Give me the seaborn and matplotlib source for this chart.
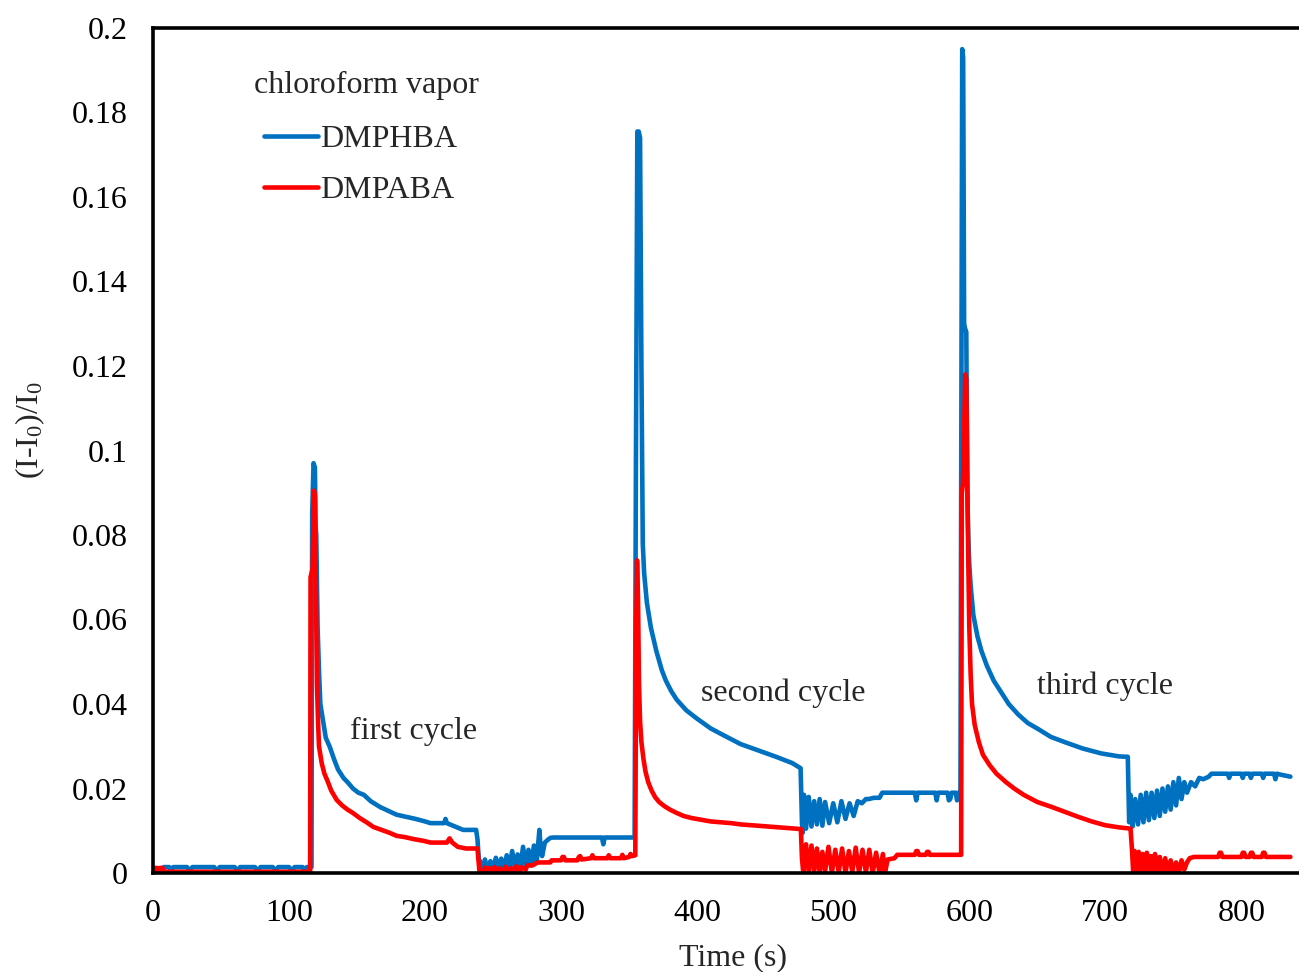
import numpy as np
import pandas as pd
import matplotlib
matplotlib.use("Agg")
import matplotlib.pyplot as plt
from matplotlib.ticker import MultipleLocator, FuncFormatter
import seaborn as sns

# ---------------- data ----------------
series_names = ["DMPHBA", "DMPABA"]
series_colors = ["#0070C0", "#FF0000"]
legend_title = "chloroform vapor"
cycle_labels = ["first cycle", "second cycle", "third cycle"]
cycle_label_t = [145, 402.5, 649.7]
cycle_label_v = [0.0335, 0.0425, 0.0442]

# DMPHBA (blue)
b_base_t = [0, 2, 3, 6, 8, 12, 13, 15, 25, 27, 29, 45, 47, 49, 60, 62, 64, 75, 77, 79, 88, 90, 92, 100, 102, 104, 110, 111, 113, 116]
b_base_v = [0.001, 0.001, 0.0004, 0.0004, 0.0014, 0.0014, 0.0005, 0.0014, 0.0014, 0.0005, 0.0014, 0.0014, 0.0004, 0.0014,
            0.0014, 0.0005, 0.0014, 0.0014, 0.0004, 0.0014, 0.0014, 0.0005, 0.0014, 0.0014, 0.0004, 0.0014, 0.0014, 0.0005, 0.0014, 0.0014]
b_c1_t = [116.5, 117, 118, 119, 119.5, 120, 121, 122, 123, 125, 127, 130, 133, 136, 140, 143, 147, 151, 155, 160, 167, 173, 179,
          186, 193, 200, 204, 210, 214, 215, 216, 222, 228, 234, 237.5, 238.5, 239.5]
b_c1_v = [0.0014, 0.085, 0.097, 0.096, 0.082, 0.08, 0.058, 0.048, 0.040, 0.036, 0.032, 0.0298, 0.027, 0.0245, 0.0225, 0.0215,
          0.020, 0.019, 0.0185, 0.017, 0.0156, 0.0147, 0.0138, 0.0133, 0.0128, 0.0122, 0.0118, 0.0118, 0.0118, 0.0128, 0.0118,
          0.011, 0.0102, 0.0102, 0.0102, 0.008, 0.003]
b_off1_t = [240, 242, 244, 246, 248, 250, 252, 254, 256, 258, 260, 262, 264, 266, 268, 270, 272, 274, 276, 278, 280, 282, 284,
            285, 286, 288, 290, 292, 294, 330, 331, 332, 354]
b_off1_v = [0.003, 0.001, 0.0032, 0.0007, 0.0028, 0.001, 0.0036, 0.0012, 0.0034, 0.0008, 0.0042, 0.0014, 0.0052, 0.001, 0.0044,
            0.0012, 0.0062, 0.0015, 0.0055, 0.0018, 0.0065, 0.0025, 0.0102, 0.0055, 0.004, 0.0072, 0.0078, 0.0083, 0.0084,
            0.0084, 0.0068, 0.0084, 0.0084]
b_c2_t = [355, 356, 357, 358, 359, 360, 361, 363, 366, 370, 374, 377, 381, 385, 392, 400, 410, 420, 432, 445, 458, 470, 476]
b_c2_v = [0.10, 0.1755, 0.1755, 0.174, 0.12, 0.078, 0.071, 0.064, 0.058, 0.0525, 0.048, 0.0455, 0.043, 0.041, 0.0385,
          0.0365, 0.0342, 0.0325, 0.0305, 0.029, 0.0275, 0.026, 0.0248]
b_off2_t = [477, 477.5, 478.5, 480, 482, 484, 486, 488, 490, 492, 494, 497, 500, 503, 506, 509, 512, 515, 518, 521, 524, 526,
            530, 534, 536, 560, 561, 562, 563, 575, 576, 577, 578, 584, 585, 586, 587, 590, 591, 592, 593.5]
b_off2_v = [0.012, 0.0095, 0.0185, 0.0105, 0.018, 0.011, 0.017, 0.0115, 0.0175, 0.0112, 0.0168, 0.0118, 0.0165, 0.012, 0.017,
            0.0128, 0.0165, 0.0135, 0.017, 0.0165, 0.0175, 0.0175, 0.0178, 0.0178, 0.019, 0.019, 0.0172, 0.019, 0.019, 0.019,
            0.0172, 0.019, 0.019, 0.019, 0.0172, 0.0175, 0.019, 0.019, 0.0172, 0.019, 0.019]
b_c3_t = [594, 594.8, 595.5, 596.2, 596.8, 597.8, 598.5, 599.2, 600, 601, 603, 606, 609, 613, 618, 623, 629, 636, 643, 651,
          660, 670, 683, 697, 710, 716.5]
b_c3_v = [0.09, 0.195, 0.193, 0.13, 0.129, 0.128, 0.09, 0.08, 0.073, 0.068, 0.061, 0.056, 0.0525, 0.049, 0.0455, 0.043, 0.040,
          0.0375, 0.0355, 0.034, 0.0322, 0.031, 0.0295, 0.0283, 0.0276, 0.0275]
b_off3_t = [717.5, 718.5, 720, 722, 724, 726, 728, 730, 732, 734, 736, 738, 740, 742, 744, 746, 748, 750, 752, 754, 756, 758,
            760, 763, 766, 769, 772, 776, 778, 790, 791, 792, 800, 801, 802, 806, 807, 808, 815, 816, 817, 824, 825, 826, 830, 836]
b_off3_v = [0.012, 0.0185, 0.011, 0.0175, 0.0115, 0.0185, 0.012, 0.019, 0.0125, 0.019, 0.013, 0.0195, 0.0135, 0.02, 0.0145,
            0.0205, 0.015, 0.0215, 0.016, 0.0225, 0.0175, 0.0215, 0.019, 0.0215, 0.0205, 0.0225, 0.0222, 0.0228, 0.0235, 0.0235,
            0.0225, 0.0235, 0.0235, 0.0225, 0.0235, 0.0235, 0.0225, 0.0235, 0.0235, 0.0225, 0.0235, 0.0235, 0.0222, 0.0235,
            0.0232, 0.0228]

# DMPABA (red)
r_base_t = [0, 1, 3, 4, 5, 7, 8, 40, 115.5]
r_base_v = [0.0003, 0.0012, 0.0012, 0.0003, 0.0012, 0.0012, 0.0003, 0.0003, 0.0003]
r_c1_t = [115.8, 116.5, 117.3, 118.3, 119, 119.8, 120.5, 121.3, 122, 124, 126, 128, 131, 135, 139, 143, 147, 152, 157, 162,
          168, 174, 179, 185, 192, 199, 204, 210, 216, 218, 220, 224, 230, 238.5, 239.5]
r_c1_v = [0.07, 0.071, 0.072, 0.0905, 0.089, 0.065, 0.045, 0.036, 0.030, 0.026, 0.0235, 0.022, 0.0195, 0.0173, 0.016, 0.015,
          0.0142, 0.013, 0.012, 0.0109, 0.0102, 0.0095, 0.0088, 0.0085, 0.008, 0.0076, 0.0072, 0.0072, 0.0072, 0.0082, 0.0072,
          0.0062, 0.0058, 0.0058, 0.002]
r_off1_t = [240, 243, 244, 246, 247, 250, 251, 254, 255, 258, 259, 262, 263, 266, 267, 270, 271, 274, 275, 279, 281, 283, 292,
            293, 300, 301, 302, 303, 312, 313, 314, 315, 322, 323, 324, 334, 335, 336, 344, 345, 346, 350, 351, 352, 354.5]
r_off1_v = [0.0002, 0.0002, 0.0013, 0.0002, 0.0012, 0.0002, 0.0014, 0.0002, 0.0011, 0.0002, 0.0015, 0.0002, 0.0012, 0.0003,
            0.0016, 0.0005, 0.0014, 0.0008, 0.0018, 0.0018, 0.0022, 0.0025, 0.0025, 0.003, 0.003, 0.0038, 0.0038, 0.003, 0.003,
            0.0038, 0.004, 0.0032, 0.0035, 0.0042, 0.0035, 0.0035, 0.0042, 0.0035, 0.0035, 0.0043, 0.0035, 0.0038, 0.0045,
            0.004, 0.0042]
r_c2_t = [355.2, 355.8, 356.5, 357.2, 358, 359, 360.5, 362, 364, 366.5, 369, 372, 376, 380, 385, 390, 396, 403, 410, 418, 425,
          432, 440, 448, 456, 464, 472, 476.2]
r_c2_v = [0.06, 0.074, 0.065, 0.045, 0.036, 0.031, 0.027, 0.024, 0.0215, 0.0195, 0.018, 0.0168, 0.0158, 0.015, 0.0142, 0.0135,
          0.013, 0.0126, 0.0122, 0.012, 0.0118, 0.0115, 0.0113, 0.0111, 0.0109, 0.0107, 0.0105, 0.0104]
r_off2_t = [477, 478, 480, 482, 484, 486, 488, 490, 492, 494, 496.5, 499, 501.5, 504, 506.5, 509, 511.5, 514, 516.5, 519, 521.5,
            524, 526.5, 529, 531.5, 534, 536.5, 538, 540, 545, 547, 560, 561, 562, 563, 568, 569, 570, 571, 594]
r_off2_v = [0.0035, 0.0, 0.0068, 0.0002, 0.0065, 0.0004, 0.0058, 0.0002, 0.005, 0.0004, 0.0062, 0.0, 0.0055, 0.0002, 0.0058,
            0.0, 0.0052, 0.0003, 0.006, 0.0, 0.0055, 0.0002, 0.0055, 0.0, 0.0048, 0.0, 0.0045, 0.0, 0.0032, 0.0035, 0.0043,
            0.0043, 0.0052, 0.0052, 0.0043, 0.0043, 0.005, 0.005, 0.0043, 0.0043]
r_c3_t = [594.5, 595.3, 596.2, 597, 597.8, 598.5, 599.2, 600, 601, 602, 604, 607, 610, 615, 620, 627, 633, 640, 650, 660, 670,
          680, 690, 700, 710, 718.5, 719.5]
r_c3_v = [0.09, 0.092, 0.105, 0.118, 0.117, 0.095, 0.075, 0.058, 0.047, 0.040, 0.035, 0.031, 0.028, 0.0255, 0.0235, 0.0215,
          0.020, 0.0185, 0.0168, 0.0157, 0.0145, 0.0133, 0.0122, 0.0113, 0.0108, 0.0105, 0.006]
r_off3_t = [720.5, 721.5, 723, 724.5, 726, 727.5, 729, 730.5, 732, 733.5, 735, 736.5, 738, 740, 742, 744, 746, 748, 750, 752,
            754, 756, 758, 760, 762, 765, 770, 783, 784, 785, 786, 800, 801, 802, 803, 806, 807, 808, 809, 815, 816, 817, 818, 836]
r_off3_v = [0.0, 0.0052, 0.0, 0.005, 0.0003, 0.0045, 0.0, 0.0048, 0.0002, 0.004, 0.0, 0.0045, 0.0, 0.0038, 0.0, 0.0035, 0.0,
            0.003, 0.0, 0.0025, 0.0, 0.003, 0.0008, 0.0025, 0.0035, 0.0038, 0.0038, 0.0038, 0.0048, 0.0048, 0.0038, 0.0038,
            0.0048, 0.0048, 0.0038, 0.0038, 0.0048, 0.0048, 0.0038, 0.0038, 0.0048, 0.0048, 0.0038, 0.0038]

blue_t = b_base_t + b_c1_t + b_off1_t + b_c2_t + b_off2_t + b_c3_t + b_off3_t
blue_v = b_base_v + b_c1_v + b_off1_v + b_c2_v + b_off2_v + b_c3_v + b_off3_v
red_t = r_base_t + r_c1_t + r_off1_t + r_c2_t + r_off2_t + r_c3_t + r_off3_t
red_v = r_base_v + r_c1_v + r_off1_v + r_c2_v + r_off2_v + r_c3_v + r_off3_v

df = pd.concat([
    pd.DataFrame({"time": blue_t, "value": blue_v, "series": series_names[0]}),
    pd.DataFrame({"time": red_t, "value": red_v, "series": series_names[1]}),
], ignore_index=True)

# ---------------- styling ----------------
sns.set_theme(style="white")
plt.rcParams["font.family"] = ["Liberation Serif", "DejaVu Serif"]
plt.rcParams["mathtext.fontset"] = "custom"
plt.rcParams["mathtext.rm"] = "Liberation Serif"
plt.rcParams["mathtext.it"] = "Liberation Serif:italic"
FS = 23
LW = 3.3

fig = plt.figure(figsize=(12.99, 9.72), dpi=100)
ax = fig.add_axes([153 / 1299, 1 - 873 / 972, 1 - 153 / 1299 + 0.001, (873 - 28) / 972])

sns.lineplot(data=df, x="time", y="value", hue="series", hue_order=series_names,
             palette=dict(zip(series_names, series_colors)), estimator=None, sort=False,
             units="series", linewidth=LW, ax=ax, legend=True)

ax.set_xlim(0, 843.3)
ax.set_ylim(0, 0.2)

ax.xaxis.set_major_locator(MultipleLocator(100))
ax.xaxis.set_minor_locator(MultipleLocator(20))
ax.yaxis.set_major_locator(MultipleLocator(0.02))
ax.yaxis.set_minor_locator(MultipleLocator(0.004))
ax.yaxis.set_major_formatter(FuncFormatter(lambda v, p: f"{v:.2f}".rstrip("0").rstrip(".") if v != 0 else "0"))
ax.xaxis.set_major_formatter(FuncFormatter(lambda v, p: f"{int(round(v))}"))

ax.tick_params(axis="both", which="major", direction="in", length=7.5, width=2.3, labelsize=FS, colors="black")
ax.tick_params(axis="both", which="minor", direction="in", length=5.5, width=2.3)
ax.tick_params(axis="y", which="major", pad=18)
ax.tick_params(axis="x", which="major", pad=19)
ax.tick_params(top=False, right=False, which="both")

for s in ["left", "bottom", "top"]:
    ax.spines[s].set_color("black")
    ax.spines[s].set_linewidth(2.6)
ax.spines["right"].set_visible(False)

ax.set_xlabel("Time (s)", fontsize=FS)
ax.set_ylabel("(I-I$_\\mathregular{0}$)/I$_\\mathregular{0}$", fontsize=FS)
ax.xaxis.set_label_coords((732 - 153) / 1146, (873 - 943) / 845)
ax.yaxis.set_label_coords((47 - 153) / 1146, (873 - 430) / 845)

handles, labels = ax.get_legend_handles_labels()
leg = ax.legend(handles, labels, loc="upper left", bbox_to_anchor=((264 - 153) / 1146, (873 - 125) / 845),
                frameon=False, fontsize=FS, handlelength=1.7, handletextpad=0.05, labelspacing=0.66,
                borderpad=0, borderaxespad=0)
for line in leg.get_lines():
    line.set_linewidth(LW)

ax.text((254 - 153) / 1.359, (873 - 85) / 4225, legend_title, fontsize=FS, ha="left", va="center")
for lab, t, v in zip(cycle_labels, cycle_label_t, cycle_label_v):
    ax.text(t, v, lab, fontsize=FS, ha="left", va="center")

fig.savefig("out.png", dpi=100)
